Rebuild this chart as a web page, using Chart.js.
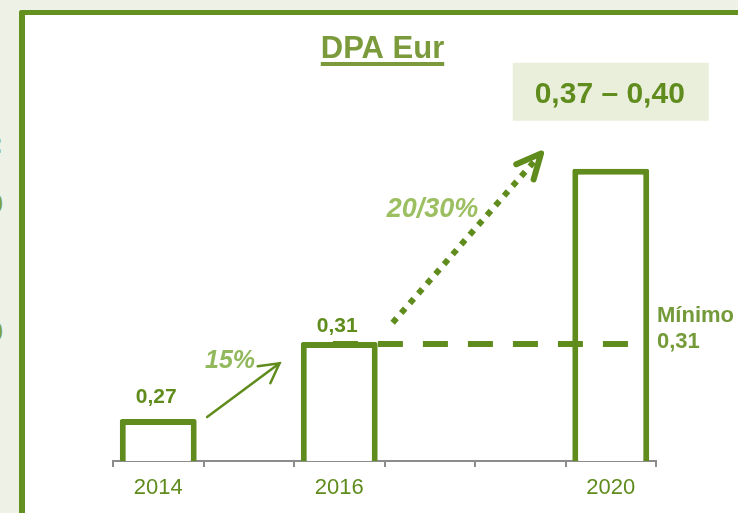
<!DOCTYPE html>
<html>
<head>
<meta charset="utf-8">
<script src="https://cdn.jsdelivr.net/npm/chart.js@4"></script>
<style>
    body { margin: 0; background: #eef1e6; font-family: "Liberation Sans", Arial, sans-serif; }
    #stage { position: relative; width: 738px; height: 513px; overflow: hidden; }
    #frame { position: absolute; left: 19px; top: 10px; width: 760px; height: 540px;
             background: #fff; border-left: 6px solid #63901e; border-top: 5px solid #63901e;
             border-top-left-radius: 3px; }
    .cut { position: absolute; left: -50px; width: 53px; text-align: right; color: #7aa23e;
           font-weight: bold; font-size: 28px; line-height: 28px; }
    #wrap { position: absolute; left: 0; top: 0; width: 738px; height: 513px; }
</style>
</head>
<body>
<div id="stage">
    <div class="cut" style="top:130px">:</div>
    <div class="cut" style="top:190px">0</div>
    <div class="cut" style="top:318px">0</div>
    <div id="frame"></div>
    <div id="wrap"><canvas id="dpa-chart"></canvas></div>
</div>
<script>
// Chart values
const years = ['2014', '', '2016', '', '', '2020'];
const dpa = [0.27, null, 0.31, null, null, 0.40];
const dpaLabels = ['0,27', '', '0,31', '', '', ''];
const minimum = 0.31;
const minimumLabel = ['Mínimo', '0,31'];
const rangeLabel = '0,37 – 0,40';
const growthShort = '15%';
const growthLong = '20/30%';

const GREEN = '#5f8c1d';

// annotation anchors in data space: [category index, value]
const shortArrow = [[0.54, 0.271], [1.34, 0.299]];
const longArrow = [[2.59, 0.320], [4.23, 0.408]];

function arrowHead(ctx, from, to, len, spread) {
    const ang = Math.atan2(from.y - to.y, from.x - to.x);
    ctx.beginPath();
    ctx.moveTo(to.x + len * Math.cos(ang - spread), to.y + len * Math.sin(ang - spread));
    ctx.lineTo(to.x, to.y);
    ctx.lineTo(to.x + len * Math.cos(ang + spread), to.y + len * Math.sin(ang + spread));
    ctx.stroke();
}

const annotations = {
    id: 'annotations',
    afterDatasetsDraw(chart) {
        const { ctx, scales: { x, y }, chartArea } = chart;
        const px = p => ({ x: x.getPixelForValue(p[0]), y: y.getPixelForValue(p[1]) });
        const meta = chart.getDatasetMeta(0);
        ctx.save();

        // value labels on bars
        ctx.fillStyle = GREEN;
        ctx.font = 'bold 21px "Liberation Sans", Arial';
        ctx.textAlign = 'center';
        ctx.textBaseline = 'alphabetic';
        meta.data.forEach((bar, i) => {
            if (!dpaLabels[i]) return;
            const gap = i === 0 ? 16 : 10;
            ctx.fillText(dpaLabels[i], bar.x - 2, bar.y - gap);
        });

        // minimum dashed line
        const my = y.getPixelForValue(minimum) + 2;
        ctx.strokeStyle = GREEN;
        ctx.lineWidth = 6;
        ctx.setLineDash([25, 20]);
        ctx.beginPath();
        ctx.moveTo(x.getPixelForValue(1.93), my);
        ctx.lineTo(x.getPixelForValue(5.21), my);
        ctx.stroke();
        ctx.setLineDash([]);

        ctx.fillStyle = '#749a3a';
        ctx.font = 'bold 22px "Liberation Sans", Arial';
        ctx.textAlign = 'left';
        const mx = x.getPixelForValue(5.5) + 1;
        ctx.fillText(minimumLabel[0], mx, my - 22);
        ctx.fillText(minimumLabel[1], mx, my + 4);

        // short growth arrow
        let a = px(shortArrow[0]), b = px(shortArrow[1]);
        ctx.strokeStyle = GREEN;
        ctx.lineWidth = 2.5;
        ctx.lineCap = 'round';
        ctx.beginPath();
        ctx.moveTo(a.x, a.y);
        ctx.lineTo(b.x, b.y);
        ctx.stroke();
        arrowHead(ctx, a, b, 22, 0.5);
        ctx.fillStyle = '#92b95d';
        ctx.font = 'italic bold 25px "Liberation Sans", Arial';
        ctx.textAlign = 'right';
        ctx.fillText(growthShort, x.getPixelForValue(1.07), y.getPixelForValue(0.2965));

        // long dotted growth arrow
        a = px(longArrow[0]); b = px(longArrow[1]);
        ctx.lineWidth = 6;
        ctx.lineCap = 'butt';
        ctx.setLineDash([6, 7]);
        ctx.beginPath();
        ctx.moveTo(a.x, a.y);
        ctx.lineTo(b.x - 6, b.y + 7);
        ctx.stroke();
        ctx.setLineDash([]);
        ctx.lineCap = 'round';
        ctx.lineJoin = 'round';
        arrowHead(ctx, a, b, 27, 0.44);
        ctx.fillStyle = '#9cbf62';
        ctx.font = 'italic bold 27px "Liberation Sans", Arial';
        ctx.fillText(growthLong, x.getPixelForValue(3.536), y.getPixelForValue(0.375));

        // range box above the 2020 bar
        const last = meta.data[5];
        const bw = 196, bh = 58;
        const by = last.y - 48 - bh;
        ctx.fillStyle = '#eaefdc';
        ctx.fillRect(last.x - bw / 2, by, bw, bh);
        ctx.fillStyle = GREEN;
        ctx.font = 'bold 30px "Liberation Sans", Arial';
        ctx.textAlign = 'center';
        ctx.fillText(rangeLabel, last.x - 1, by + 40);

        // underlined title
        const tx = (chartArea.left + chartArea.right) / 2 - 2;
        ctx.fillStyle = '#7b9a3c';
        ctx.font = 'bold 31px "Liberation Sans", Arial';
        ctx.fillText('DPA Eur', tx, 58);
        const tw = ctx.measureText('DPA Eur').width;
        ctx.fillRect(tx - tw / 2, 62, tw, 4);

        ctx.restore();
    }
};

new Chart(document.getElementById('dpa-chart'), {
    type: 'bar',
    data: {
        labels: years,
        datasets: [{
            data: dpa,
            backgroundColor: '#ffffff',
            borderColor: GREEN,
            borderWidth: 6,
            borderRadius: 2,
            borderSkipped: false,
            categoryPercentage: 1,
            barPercentage: 0.85
        }]
    },
    options: {
        responsive: true,
        maintainAspectRatio: false,
        animation: false,
        layout: { padding: { left: 113, right: 82, top: 20, bottom: 0 } },
        plugins: { legend: { display: false }, tooltip: { enabled: false } },
        scales: {
            y: { display: false, min: 0.2482, max: 0.4773 },
            x: {
                afterFit: s => { s.height = 52; },
                border: { display: true, color: '#8c8c8c', width: 2 },
                grid: { drawOnChartArea: false, drawTicks: true, tickLength: 6, color: '#8c8c8c', lineWidth: 2 },
                ticks: { color: GREEN, padding: 8, font: { family: '"Liberation Sans", Arial', size: 22 } }
            }
        }
    },
    plugins: [annotations]
});
</script>
</body>
</html>
